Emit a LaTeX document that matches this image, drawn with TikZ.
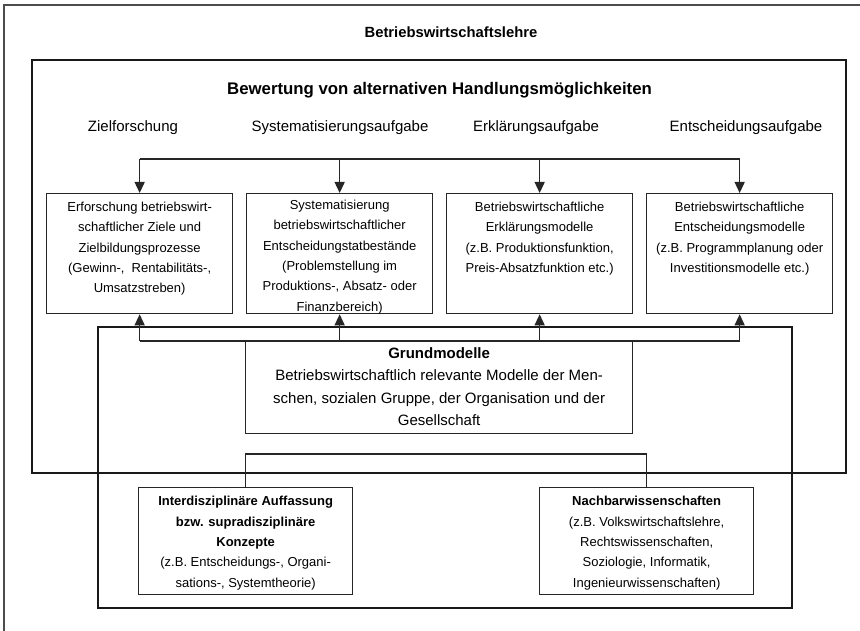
\documentclass[tikz,border=0pt]{standalone}
\usepackage{fontspec}
\setmainfont{Liberation Sans}
\usetikzlibrary{arrows.meta}

\begin{document}
\begin{tikzpicture}[x=1pt,y=-1pt,
  outerline/.style={draw=black!70, line width=1.4pt},
  frame/.style={draw=black!90, line width=2.4pt},
  thinline/.style={draw=black!85, line width=1.3pt},
  box/.style={draw=black!85, line width=1.3pt, rectangle, inner sep=0pt,
    anchor=north west, fill=white},
  boxtxt/.style={anchor=north, align=center, inner sep=0pt,
    font=\fontsize{13}{20.3}\selectfont},
  gmtxt/.style={align=center, inner sep=0pt, font=\fontsize{15}{22.3}\selectfont},
  head/.style={inner sep=0pt, font=\fontsize{15}{18}\selectfont},
  arr/.style={thinline, -{Triangle[width=10pt,length=11pt]}},
]
\useasboundingbox (0,0) rectangle (860,631);

% outer frame (only its left and top edges fall inside the page)
\draw[outerline] (4,5) rectangle (870,645);

% main title
\node[inner sep=0pt, font=\bfseries\fontsize{14.8}{18}\selectfont] (title) at (451,32) {Betriebswirtschaftslehre};

% frame: evaluation of alternative courses of action
\draw[frame] (32,60) rectangle (846,473);
\node[inner sep=0pt, font=\bfseries\fontsize{16.8}{20}\selectfont] (eval) at (439.5,90) {Bewertung von alternativen Handlungsmöglichkeiten};

% task headings
\node[head] (h1) at (133,128) {Zielforschung};
\node[head] (h2) at (340,128) {Systematisierungsaufgabe};
\node[head] (h3) at (536,128) {Erklärungsaufgabe};
\node[head] (h4) at (746,128) {Entscheidungsaufgabe};

% frame around the foundations
\draw[frame] (98,327) rectangle (792,608);

% the four task boxes
\node[box, minimum width=186pt, minimum height=120pt] (b1) at (46,193) {};
\node[box, minimum width=186pt, minimum height=120pt] (b2) at (246,193) {};
\node[box, minimum width=186pt, minimum height=120pt] (b3) at (446,193) {};
\node[box, minimum width=186pt, minimum height=120pt] (b4) at (646,193) {};

\node[boxtxt] (t1) at ([yshift=-9pt]b1.north) {Erforschung betriebswirt-\\schaftlicher Ziele und\\Zielbildungsprozesse\\(Gewinn-,\ \ Rentabilitäts-,\\Umsatzstreben)};
\node[boxtxt] (t2) at ([yshift=-7pt]b2.north) {Systematisierung\\betriebswirtschaftlicher\\Entscheidungstatbestände\\(Problemstellung im\\Produktions-, Absatz- oder\\Finanzbereich)};
\node[boxtxt] (t3) at ([yshift=-9pt]b3.north) {Betriebswirtschaftliche\\Erklärungsmodelle\\(z.B. Produktionsfunktion,\\Preis-Absatzfunktion etc.)};
\node[boxtxt] (t4) at ([yshift=-9pt]b4.north) {Betriebswirtschaftliche\\Entscheidungsmodelle\\(z.B. Programmplanung oder\\Investitionsmodelle etc.)};

% basic models
\node[box, minimum width=387pt, minimum height=92pt] (gm) at (245,341) {};
\node[gmtxt] (gmt) at ([yshift=1pt]gm.center) {\textbf{Grundmodelle}\\Betriebswirtschaftlich relevante Modelle der Men-\\schen, sozialen Gruppe, der Organisation und der\\Gesellschaft};

% foundations
\node[box, minimum width=214pt, minimum height=107pt] (bl) at (138,487) {};
\node[box, minimum width=214pt, minimum height=107pt] (br) at (539,487) {};
\node[boxtxt, anchor=center] (tl) at ([yshift=-2pt]bl.center) {\textbf{Interdisziplinäre Auffassung}\\\textbf{bzw. supradisziplinäre}\\\textbf{Konzepte}\\(z.B. Entscheidungs-, Organi-\\sations-, Systemtheorie)};
\node[boxtxt, anchor=center] (tr) at ([yshift=-2pt]br.center) {\textbf{Nachbarwissenschaften}\\(z.B. Volkswirtschaftslehre,\\Rechtswissenschaften,\\Soziologie, Informatik,\\Ingenieurwissenschaften)};

% distribution from the headings down to the task boxes
\coordinate (topbar) at (0,159);
\draw[thinline] (b1.north |- topbar) -- (b4.north |- topbar);
\foreach \b in {b1,b2,b3,b4}
  \draw[arr] (\b.north |- topbar) -- (\b.north);

% basic models feed all task boxes
\draw[thinline] (b1.south |- gm.north) -- (b4.south |- gm.north);
\foreach \b in {b1,b2,b3,b4}
  \draw[arr] (\b.south |- gm.north) -- (\b.south);

% link between the two foundation boxes
\coordinate (lowbar) at (0,454);
\draw[thinline] (bl.north) -- (bl.north |- lowbar) -| (br.north);
\end{tikzpicture}
\end{document}
